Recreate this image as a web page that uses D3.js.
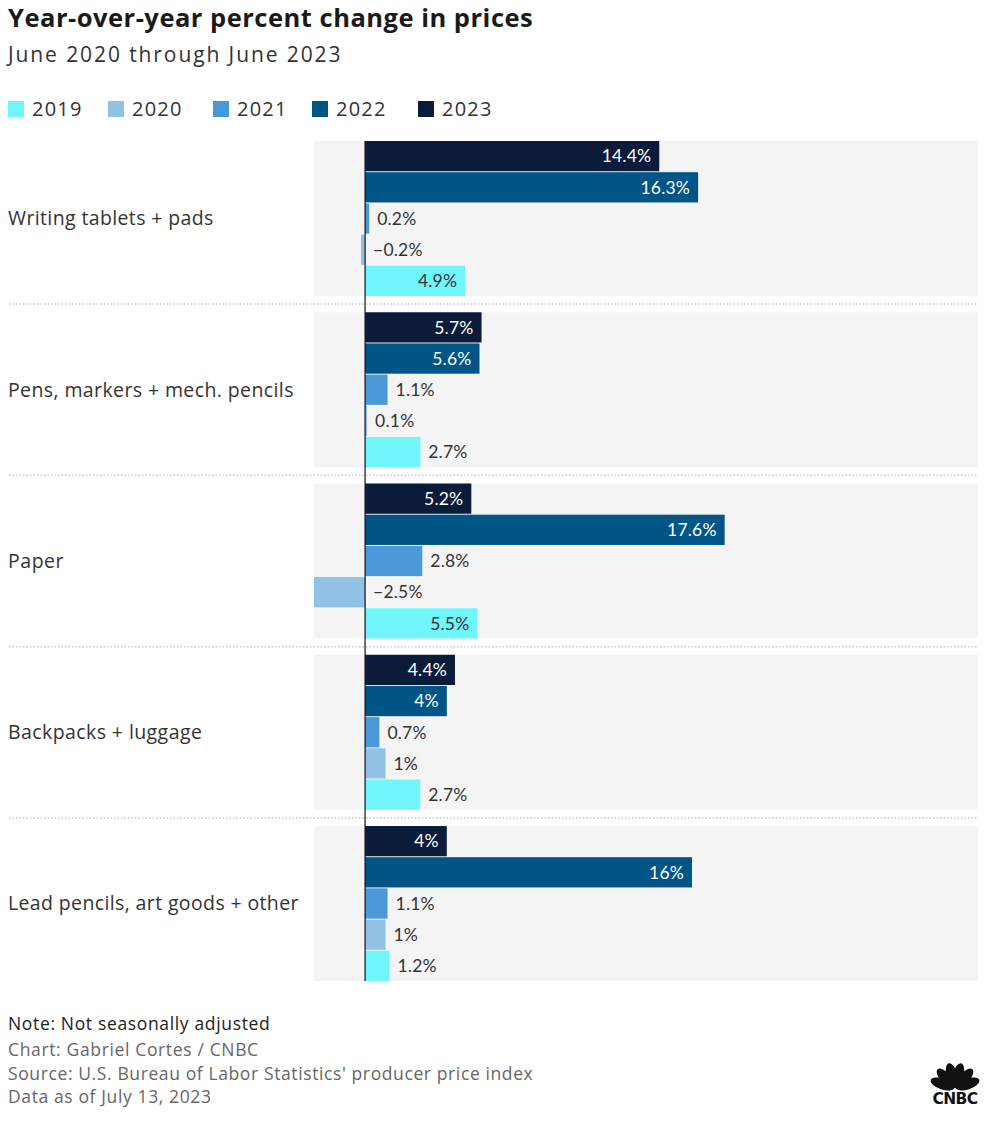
<!DOCTYPE html>
<html><head><meta charset="utf-8">
<script src="https://cdn.jsdelivr.net/npm/d3@7"></script>
<style>body{margin:0;background:#fff;}svg{display:block;font-family:"Open Sans",Lato,sans-serif;}</style>
</head><body><svg id="c" width="1000" height="1135"></svg>
<script>
const categories = ["Writing tablets + pads","Pens, markers + mech. pencils","Paper","Backpacks + luggage","Lead pencils, art goods + other"];
const years = ["2019","2020","2021","2022","2023"];
const v2019 = [4.9, 2.7, 5.5, 2.7, 1.2];
const v2020 = [-0.2, 0.1, -2.5, 1, 1];
const v2021 = [0.2, 1.1, 2.8, 0.7, 1.1];
const v2022 = [16.3, 5.6, 17.6, 4, 16];
const v2023 = [14.4, 5.7, 5.2, 4.4, 4];
const seriesValues = {"2019":v2019,"2020":v2020,"2021":v2021,"2022":v2022,"2023":v2023};
const colors = {"2019":"#6ef6fb","2020":"#92c1e6","2021":"#4a98d8","2022":"#005587","2023":"#0b1c3b"};
const notes = ["Note: Not seasonally adjusted"];
const credits = ["Chart: Gabriel Cortes / CNBC","Source: U.S. Bureau of Labor Statistics' producer price index","Data as of July 13, 2023"];

const svg = d3.select("#c");
const x = d3.scaleLinear().domain([-2.5, 30]).range([314, 978]);
const y = d3.scaleBand().domain(categories).range([141, 981]).paddingInner(0.095);
const yIn = d3.scaleBand().domain(years.slice().reverse()).range([0, y.bandwidth()]).paddingInner(0.03);

// widen text by letter-spacing to approximate the reference's wider typeface
function widen(sel, factor){
  sel.each(function(){
    const n = this.textContent.length;
    const w = this.getComputedTextLength();
    if (n>1) d3.select(this).attr("letter-spacing", (w*(factor-1))/(n-1));
  });
  return sel;
}

widen(svg.append("text").attr("x",8).attr("y",27).attr("font-size",25.5).attr("font-weight",700).attr("fill","#1a1a1a").text("Year-over-year percent change in prices"), 1.038);
widen(svg.append("text").attr("x",8).attr("y",62).attr("font-size",21).attr("fill","#333").text("June 2020 through June 2023"), 1.175);

const legX = [8,108,213,312,418];
years.forEach((yr,i)=>{
  svg.append("rect").attr("x",legX[i]).attr("y",101).attr("width",16).attr("height",16).attr("fill",colors[yr]);
  widen(svg.append("text").attr("x",legX[i]+24).attr("y",116).attr("font-size",20).attr("fill","#333").text(yr), 1.08);
});

const fmt = v => (v<0?"\u2212":"") + Math.abs(v) + "%";

categories.forEach((cat,ci)=>{
  const g = svg.append("g").attr("transform",`translate(0,${y(cat)})`);
  g.append("rect").attr("x",x.range()[0]).attr("y",0).attr("width",x.range()[1]-x.range()[0]).attr("height",y.bandwidth()).attr("fill","#f4f4f4");
  widen(g.append("text").attr("x",8).attr("y",y.bandwidth()/2).attr("dy","0.35em").attr("font-size",19.5).attr("fill","#333").text(cat), 1.04);
  years.forEach(yr=>{
    const v = seriesValues[yr][ci];
    const x0 = x(Math.min(0,v)), x1 = x(Math.max(0,v));
    g.append("rect").attr("x",x0).attr("y",yIn(yr)).attr("width",Math.max(0,x1-x0)).attr("height",yIn.bandwidth()).attr("fill",colors[yr]);
    const t = g.append("text").attr("y",yIn(yr)+yIn.bandwidth()/2).attr("dy","0.36em").attr("font-size",17.5).attr("font-family","Lato, sans-serif").attr("letter-spacing","0.2").text(fmt(v));
    const w = t.node().getComputedTextLength();
    const bw = x1-x0;
    if (v>0 && bw > w+20) {
      t.attr("x",x1-8).attr("text-anchor","end").attr("fill",(yr==="2019"||yr==="2020")?"#333":"#fff");
    } else {
      t.attr("x",(v>0?x1:x(0))+8).attr("fill","#333");
    }
  });
  if (ci < categories.length-1) {
    const sy = y(cat)+y.bandwidth()+ (y.step()-y.bandwidth())/2;
    svg.append("line").attr("x1",9).attr("x2",978).attr("y1",sy).attr("y2",sy).attr("stroke","#c8c8c8").attr("stroke-width",1.5).attr("stroke-dasharray","1.5,2");
  }
});
svg.append("line").attr("x1",x(0)).attr("x2",x(0)).attr("y1",141).attr("y2",981).attr("stroke","#111").attr("stroke-width",1.2);

widen(svg.append("text").attr("x",8).attr("y",1030).attr("font-size",17.5).attr("fill","#222").text(notes[0]), 1.075);
credits.forEach((c,i)=>widen(svg.append("text").attr("x",8).attr("y",1056+i*23.5).attr("font-size",17.5).attr("fill","#666").text(c), 1.075));

// CNBC logo
const logo = svg.append("g").attr("transform","translate(955,1088)");
const angles = [-72,-43,-14,14,43,72];
angles.forEach(a=>{
  logo.append("ellipse").attr("cx",0).attr("cy",-13).attr("rx",5.5).attr("ry",12.5).attr("fill","#111")
    .attr("transform",`rotate(${a})`);
});
logo.append("text").attr("x",0).attr("y",15.5).attr("text-anchor","middle").attr("font-size",15.5).attr("font-weight",900).attr("font-family","DejaVu Sans, sans-serif").attr("letter-spacing","-0.6").attr("fill","#111").text("CNBC");
</script></body></html>
